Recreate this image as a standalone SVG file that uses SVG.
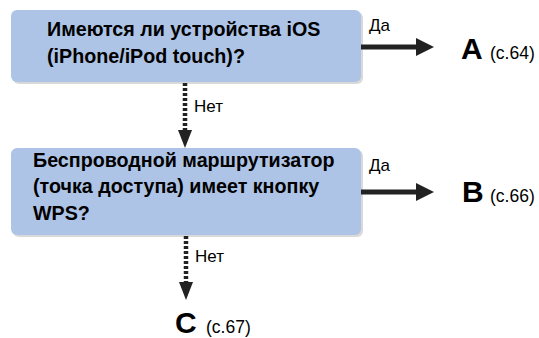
<svg xmlns="http://www.w3.org/2000/svg" width="539" height="338" viewBox="0 0 539 338">
<defs>
<style>
.box{fill:#aec4e6;}
.shadow{fill:#d9d9d9;}
.q{font-family:"Liberation Sans",Arial,sans-serif;font-weight:bold;font-size:19.7px;fill:#000;}
.lbl{font-family:"Liberation Sans",Arial,sans-serif;font-size:17px;fill:#000;}
.big{font-family:"Liberation Sans",Arial,sans-serif;font-weight:bold;font-size:30px;fill:#000;}
.ref{font-family:"Liberation Sans",Arial,sans-serif;font-size:17.5px;fill:#000;}
.solid{stroke:#222;stroke-width:5;fill:none;}
.dash{stroke:#222;stroke-width:4.5;fill:none;stroke-dasharray:3 2;}
.head{fill:#222;}
</style>
</defs>
<g id="node-q1">
<rect class="shadow" x="13" y="12" width="350" height="72" rx="6"/>
<rect class="box" x="11" y="10" width="350" height="72" rx="6"/>
<text class="q" x="47" y="36">Имеются ли устройства iOS</text>
<text class="q" x="47" y="63">(iPhone/iPod touch)?</text>
</g>
<g id="node-q2">
<rect class="shadow" x="13" y="150" width="350" height="87" rx="6"/>
<rect class="box" x="11" y="148" width="350" height="87" rx="6"/>
<text class="q" x="33" y="167">Беспроводной маршрутизатор</text>
<text class="q" x="33" y="193">(точка доступа) имеет кнопку</text>
<text class="q" x="33" y="220">WPS?</text>
</g>
<g id="node-a">
<text class="big" x="461" y="58.5">A</text>
<text class="ref" x="490" y="58.5">(с.64)</text>
</g>
<g id="node-b">
<text class="big" x="462" y="202">B</text>
<text class="ref" x="490" y="202">(с.66)</text>
</g>
<g id="node-c">
<text class="big" x="175" y="333">C</text>
<text class="ref" x="206" y="333">(с.67)</text>
</g>
<g id="connectors">
<line class="solid" x1="361" y1="47" x2="420" y2="47"/>
<polygon class="head" points="416,38 434,47 416,56"/>
<text class="lbl" x="369" y="30.5">Да</text>
<line class="solid" x1="361" y1="192" x2="420" y2="192"/>
<polygon class="head" points="416,183 434,192 416,201"/>
<text class="lbl" x="369" y="170.5">Да</text>
<line class="dash" x1="185" y1="83" x2="185" y2="132"/>
<polygon class="head" points="178,130 192,130 185,148"/>
<text class="lbl" x="194" y="112">Нет</text>
<line class="dash" x1="186" y1="236" x2="186" y2="284"/>
<polygon class="head" points="179,282 193,282 186,300"/>
<text class="lbl" x="195" y="262">Нет</text>
</g>
</svg>
